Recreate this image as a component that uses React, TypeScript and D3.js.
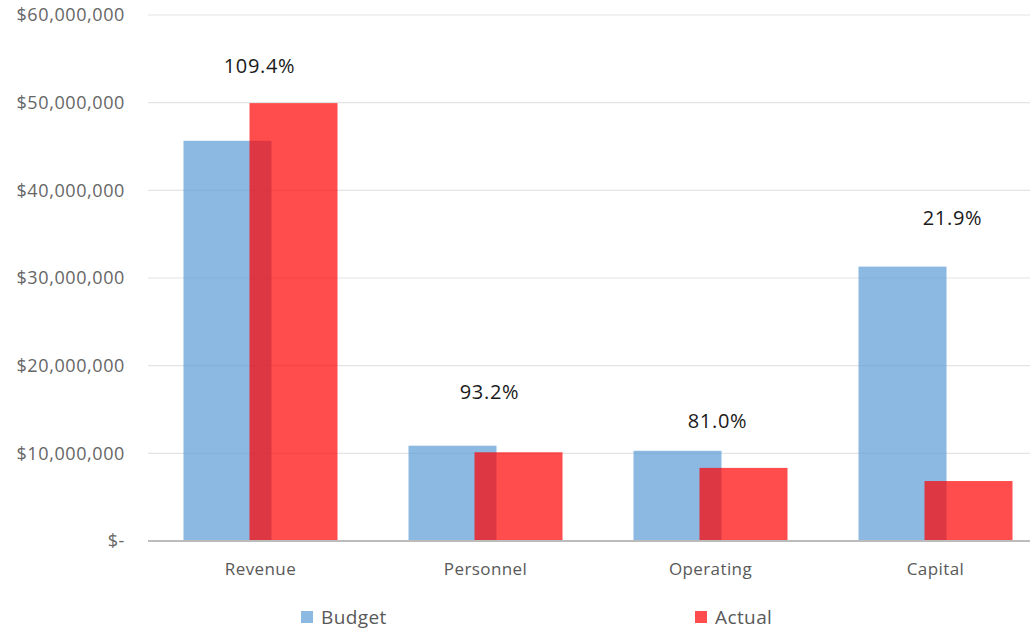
import React from "react";
import * as d3 from "d3";

const categories = ["Revenue", "Personnel", "Operating", "Capital"];
const budget = [45650000, 10870000, 10290000, 31300000];
const actual = [49950000, 10120000, 8340000, 6840000];
const pctLabels = ["109.4%", "93.2%", "81.0%", "21.9%"];
const labelAnchor = [53400000, 16200000, 12900000, 36000000];
const yTicks = [0, 10000000, 20000000, 30000000, 40000000, 50000000, 60000000];

const W = 1030;
const H = 630;
const left = 148;
const baseY = 541;
const topY = 15;
const labelDx = [-1, 4, 7, 17];

const font = "'Open Sans', 'Noto Sans', sans-serif";

function fmt(v: number) {
  if (v === 0) return "$-";
  return "$" + d3.format(",")(v);
}

export default function App() {
  const x = d3.scaleBand<string>().domain(categories).range([left, left + 900]).padding(0);
  const y = d3.scaleLinear().domain([0, 60000000]).range([baseY, topY]);
  const bw = 88;
  const shift = 66;

  return (
    <div style={{ position: "absolute", left: 0, top: 0 }}>
      <svg width={W} height={H} style={{ display: "block", background: "#fff" }}>
        {yTicks.map((t) => (
          <g key={t}>
            {t !== 0 && (
              <line x1={left} x2={W} y1={y(t)} y2={y(t)} stroke="#e4e4e4" strokeWidth={1.2} />
            )}
            <text
              x={125}
              y={y(t)}
              dy="0.35em"
              textAnchor="end"
              fontFamily={font}
              fontSize={18}
              letterSpacing={0.6}
              fill="#666"
            >
              {fmt(t)}
            </text>
          </g>
        ))}
        {categories.map((c, i) => {
          const cx = (x(c) as number) + x.bandwidth() / 2;
          const bx = cx - bw / 2 - shift / 2;
          const ax = cx - bw / 2 + shift / 2;
          return (
            <g key={c}>
              <rect x={bx} y={y(budget[i])} width={bw} height={baseY - y(budget[i])} fill="#5B9BD5" fillOpacity={0.7} />
              <rect x={ax} y={y(actual[i])} width={bw} height={baseY - y(actual[i])} fill="#FF0000" fillOpacity={0.7} />
              <text
                x={cx + labelDx[i]}
                y={y(labelAnchor[i])}
                textAnchor="middle"
                fontFamily={font}
                fontSize={20}
                letterSpacing={0.7}
                fill="#1a1a1a"
              >
                {pctLabels[i]}
              </text>
              <text
                x={cx}
                y={569}
                dy="0.35em"
                textAnchor="middle"
                fontFamily={font}
                fontSize={17}
                letterSpacing={0.4}
                fill="#595959"
              >
                {c}
              </text>
            </g>
          );
        })}
        <line x1={left} x2={W} y1={baseY} y2={baseY} stroke="#bcbcbc" strokeWidth={2} />
        <g>
          <rect x={301} y={611} width={12} height={12} fill="#5B9BD5" fillOpacity={0.7} />
          <text x={321} y={617} dy="0.35em" fontFamily={font} fontSize={19} letterSpacing={0.4} fill="#595959">
            Budget
          </text>
          <rect x={695} y={611} width={12} height={12} fill="#FF0000" fillOpacity={0.7} />
          <text x={715} y={617} dy="0.35em" fontFamily={font} fontSize={19} letterSpacing={0.4} fill="#595959">
            Actual
          </text>
        </g>
      </svg>
    </div>
  );
}
